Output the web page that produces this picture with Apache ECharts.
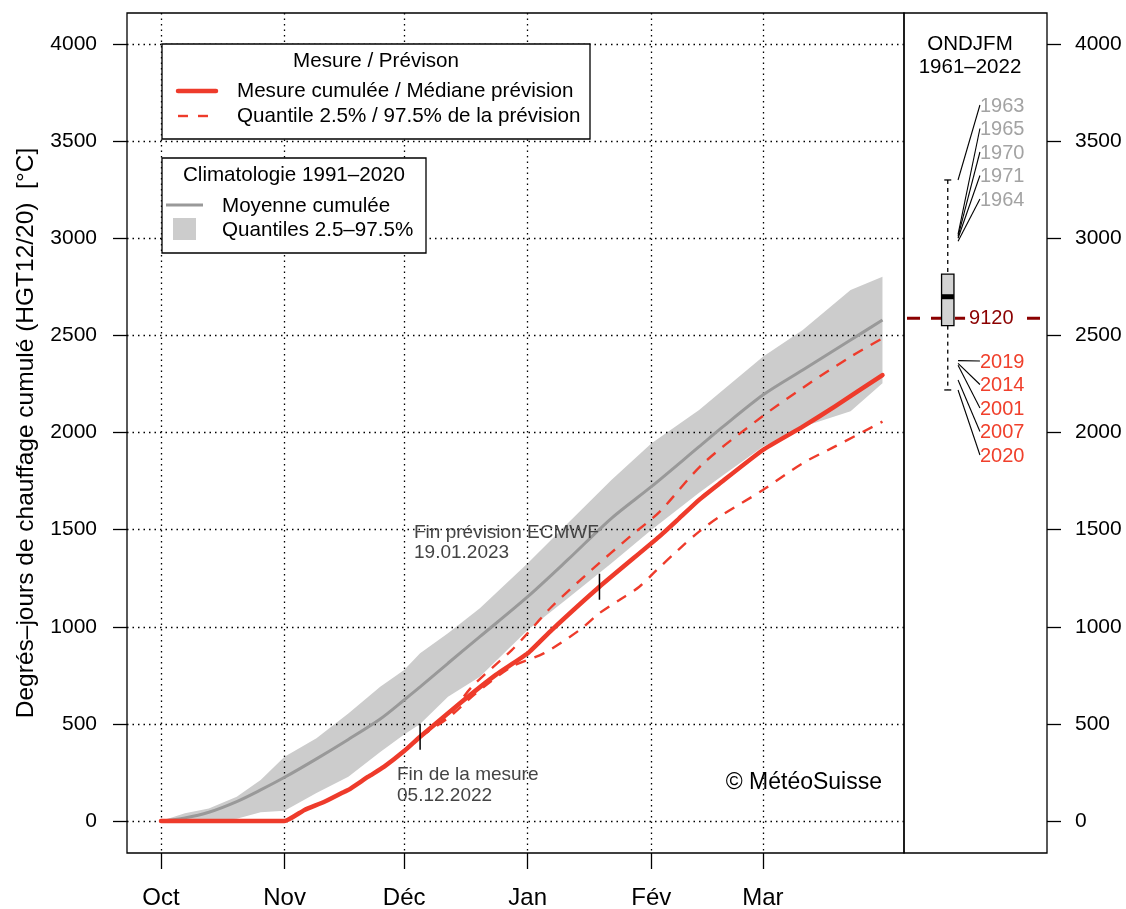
<!DOCTYPE html>
<html><head><meta charset="utf-8">
<script src="https://cdn.jsdelivr.net/npm/echarts@6/dist/echarts.min.js"></script>
<style>html,body{margin:0;padding:0;background:#fff}#c{width:1126px;height:909px}</style>
</head><body><div id="c"></div>
<script>
// ---------- DATA ----------
const monthDays = [0, 31, 61, 92, 123, 151];
const monthNames = ['Oct', 'Nov', 'Déc', 'Jan', 'Fév', 'Mar'];
const yTicks = [0, 500, 1000, 1500, 2000, 2500, 3000, 3500, 4000];

// climatology 1991-2020 (day index from 1 Oct)
const climDays  = [0, 6, 12, 19, 25, 31, 39, 47, 55, 61, 65, 72, 80, 92, 102, 113, 123, 135, 141, 151, 161, 173, 181];
const climMean  = [0, 16, 45, 100, 160, 225, 320, 420, 525, 623, 690, 812, 949, 1155, 1344, 1558, 1721, 1927, 2030, 2193, 2322, 2476, 2579];
const climUpper = [0, 40, 65, 125, 211, 331, 426, 554, 691, 777, 863, 966, 1095, 1327, 1532, 1755, 1944, 2116, 2219, 2390, 2528, 2734, 2802];
const climLower = [0, 0, 3, 12, 45, 53, 144, 228, 355, 445, 500, 640, 743, 983, 1146, 1327, 1498, 1690, 1780, 1927, 2030, 2110, 2253];

// measurement + forecast median
const medDays = [0, 31, 36, 41, 46, 47, 52, 56, 61, 65, 75, 84, 92, 98, 110, 125, 130, 135, 140, 151, 161, 169, 181];
const medVals = [0, 0, 57, 99, 151, 160, 228, 280, 360, 434, 606, 752, 863, 983, 1206, 1464, 1558, 1653, 1735, 1910, 2030, 2133, 2296];
// forecast quantiles
const upDays = [65, 72, 78, 88, 92, 98, 108, 118, 125, 136, 151, 161, 173, 181];
const upVals = [434, 540, 691, 880, 967, 1103, 1292, 1470, 1590, 1840, 2085, 2230, 2390, 2485];
const loDays = [65, 72, 79, 88, 96, 105, 110, 115, 120, 124, 130, 135, 140, 151, 161, 169, 181];
const loVals = [434, 530, 657, 794, 863, 983, 1070, 1138, 1206, 1285, 1400, 1490, 1565, 1704, 1842, 1927, 2056];

const measureEndDay = 65;   // 05.12.2022
const forecastEndDay = 110; // 19.01.2023

// ONDJFM 1961-2022 distribution
const boxStats = [2219, 2550, 2699, 2815, 3300]; // min, q1, median, q3, max
const topYears = ['1963', '1965', '1970', '1971', '1964'];
const topVals  = [3300, 3020, 3010, 3000, 2985];
const lowYears = ['2019', '2014', '2001', '2007', '2020'];
const lowVals  = [2370, 2356, 2346, 2270, 2219];
const refValue = 2588; const refLabel = '9120';

// ---------- STYLE / LAYOUT ----------
const FONT = "'Liberation Sans', Arial, Helvetica, sans-serif";
const RED = '#ee3b2b', GREYLINE = '#999999', BAND = '#cccccc';
const G0 = {left: 127, top: 13, width: 777, height: 840};
const G1 = {left: 904, top: 13, width: 143, height: 840};
const dotted = {type: [1.5, 4], color: '#000', width: 1.3};

const pairs = (xs, ys) => xs.map((x, i) => [x, ys[i]]);
const valAt = (xs, ys, d) => ys[xs.indexOf(d)];
const plain = v => String(Math.round(v));

const chart = echarts.init(document.getElementById('c'), null, {renderer: 'canvas'});

const option = {
  animation: false,
  backgroundColor: '#fff',
  textStyle: {fontFamily: FONT},
  grid: [
    Object.assign({show: true, borderColor: '#000', borderWidth: 1.3, backgroundColor: 'transparent', outerBoundsMode: 'none', containLabel: false}, G0),
    Object.assign({show: true, borderColor: '#000', borderWidth: 1.3, backgroundColor: 'transparent', outerBoundsMode: 'none', containLabel: false}, G1)
  ],
  xAxis: [
    {type: 'value', gridIndex: 0, min: -8.53, max: 186.4, z: 1.5, position: 'bottom',
     axisLine: {show: false, onZero: false},
     axisTick: {show: true, inside: false, customValues: monthDays, length: 16, lineStyle: {color: '#000', width: 1.3}},
     axisLabel: {customValues: monthDays, margin: 33, fontSize: 24, color: '#000', fontFamily: FONT,
       formatter: v => monthNames[monthDays.indexOf(Math.round(v))] || ''},
     splitLine: {show: true, lineStyle: dotted}},
    {type: 'value', gridIndex: 1, min: 0, max: 1, show: false, axisLine: {onZero: false}}
  ],
  yAxis: [
    {type: 'value', gridIndex: 0, min: -164.7, max: 4159.6, z: 1.5, position: 'left',
     axisLine: {show: false, onZero: false},
     axisTick: {show: true, inside: false, customValues: yTicks, length: 14, lineStyle: {color: '#000', width: 1.3}},
     axisLabel: {customValues: yTicks, margin: 30, fontSize: 21, color: '#000', fontFamily: FONT, formatter: plain},
     splitLine: {show: true, lineStyle: dotted},
     name: 'Degrés–jours de chauffage cumulé (HGT12/20)  [°C]', nameLocation: 'middle', nameRotate: 90, nameGap: 88,
     nameTextStyle: {fontSize: 24.5, color: '#000', fontFamily: FONT}},
    {type: 'value', gridIndex: 1, min: -164.7, max: 4159.6, position: 'right',
     axisLine: {show: false, onZero: false},
     axisTick: {show: true, inside: false, customValues: yTicks, length: 14, lineStyle: {color: '#000', width: 1.3}},
     axisLabel: {customValues: yTicks, margin: 28, fontSize: 21, color: '#000', fontFamily: FONT, formatter: plain},
     splitLine: {show: false}}
  ],
  series: [
    // climatology band
    {type: 'custom', xAxisIndex: 0, yAxisIndex: 0, z: 1, data: [[0, 0]], silent: true,
     renderItem: (params, api) => {
       const pts = [];
       for (let i = 0; i < climDays.length; i++) pts.push(api.coord([climDays[i], climUpper[i]]));
       for (let i = climDays.length - 1; i >= 0; i--) pts.push(api.coord([climDays[i], climLower[i]]));
       return {type: 'polygon', shape: {points: pts}, style: {fill: BAND}};
     }},
    {type: 'line', xAxisIndex: 0, yAxisIndex: 0, z: 3, data: pairs(climDays, climMean), showSymbol: false, smooth: 0.3,
     lineStyle: {color: GREYLINE, width: 3}},
    {type: 'line', xAxisIndex: 0, yAxisIndex: 0, z: 4, data: pairs(upDays, upVals), showSymbol: false, smooth: 0.3,
     lineStyle: {color: RED, width: 2.4, type: [11, 9]}},
    {type: 'line', xAxisIndex: 0, yAxisIndex: 0, z: 4, data: pairs(loDays, loVals), showSymbol: false, smooth: 0.3,
     lineStyle: {color: RED, width: 2.4, type: [11, 9]}},
    {type: 'line', xAxisIndex: 0, yAxisIndex: 0, z: 5, data: pairs(medDays, medVals), showSymbol: false, smooth: 0.15,
     lineStyle: {color: RED, width: 4.5, cap: 'round', join: 'round'}},
    // end markers
    {type: 'custom', xAxisIndex: 0, yAxisIndex: 0, z: 6, silent: true,
     data: [[measureEndDay, valAt(medDays, medVals, measureEndDay)], [forecastEndDay, valAt(medDays, medVals, forecastEndDay)]],
     renderItem: (params, api) => {
       const p = api.coord([api.value(0), api.value(1)]);
       return {type: 'line', shape: {x1: p[0], y1: p[1] - 13, x2: p[0], y2: p[1] + 13}, style: {stroke: '#000', lineWidth: 1.5}};
     }},
    // right panel: reference dashed line
    {type: 'custom', xAxisIndex: 1, yAxisIndex: 1, z: 2, silent: true, data: [[0, refValue]],
     renderItem: (params, api) => {
       const a = api.coord([0, refValue]), b = api.coord([1, refValue]);
       const t = api.coord([0.455, refValue]);
       return {type: 'group', children: [
         {type: 'line', shape: {x1: a[0], y1: a[1], x2: b[0], y2: b[1]}, style: {stroke: '#8b0000', lineWidth: 3, lineDash: [13, 11], lineDashOffset: -3}},
         {type: 'rect', shape: {x: t[0] - 4, y: t[1] - 12, width: 54, height: 24}, style: {fill: '#fff'}},
         {type: 'text', x: t[0], y: t[1], style: {text: refLabel, fill: '#8b0000', font: '20px ' + FONT, textAlign: 'left', textVerticalAlign: 'middle'}}
       ]};
     }},
    // boxplot
    {type: 'custom', xAxisIndex: 1, yAxisIndex: 1, z: 3, silent: true, data: [[0.306, boxStats[2]]],
     renderItem: (params, api) => {
       const cx = 0.306;
       const pMin = api.coord([cx, boxStats[0]]), pQ1 = api.coord([cx, boxStats[1]]), pMed = api.coord([cx, boxStats[2]]),
             pQ3 = api.coord([cx, boxStats[3]]), pMax = api.coord([cx, boxStats[4]]);
       const x = pMin[0], hw = 6.2, cw = 3.5;
       return {type: 'group', children: [
         {type: 'line', shape: {x1: x, y1: pMax[1], x2: x, y2: pQ3[1]}, style: {stroke: '#000', lineWidth: 1.3, lineDash: [4, 4]}},
         {type: 'line', shape: {x1: x, y1: pQ1[1], x2: x, y2: pMin[1]}, style: {stroke: '#000', lineWidth: 1.3, lineDash: [4, 4]}},
         {type: 'line', shape: {x1: x - cw, y1: pMax[1], x2: x + cw, y2: pMax[1]}, style: {stroke: '#000', lineWidth: 1.3}},
         {type: 'line', shape: {x1: x - cw, y1: pMin[1], x2: x + cw, y2: pMin[1]}, style: {stroke: '#000', lineWidth: 1.3}},
         {type: 'rect', shape: {x: x - hw, y: pQ3[1], width: 2 * hw, height: pQ1[1] - pQ3[1]}, style: {fill: '#d3d3d3', stroke: '#000', lineWidth: 1.3}},
         {type: 'line', shape: {x1: x - hw, y1: pMed[1], x2: x + hw, y2: pMed[1]}, style: {stroke: '#000', lineWidth: 5}}
       ]};
     }},
    // year annotations
    {type: 'custom', xAxisIndex: 1, yAxisIndex: 1, z: 4, silent: true,
     data: topVals.map((v, i) => [0, v, i, 0]).concat(lowVals.map((v, i) => [0, v, i, 1])),
     renderItem: (params, api) => {
       const v = api.value(1), i = api.value(2), grp = api.value(3);
       const start = api.coord([0.378, v]);
       const lx = api.coord([0.531, v])[0];
       const ly = (grp === 0 ? 106 : 362) + i * 23.5;
       const label = grp === 0 ? topYears[i] : lowYears[i];
       const col = grp === 0 ? '#a3a3a3' : '#f0402c';
       return {type: 'group', children: [
         {type: 'line', shape: {x1: start[0], y1: start[1], x2: lx, y2: ly - 1}, style: {stroke: '#000', lineWidth: 1.1}},
         {type: 'text', x: lx, y: ly, style: {text: label, fill: col, font: '20px ' + FONT, textAlign: 'left', textVerticalAlign: 'middle'}}
       ]};
     }}
  ],
  graphic: [
    {type: 'text', x: 970, y: 44, z: 20, style: {text: 'ONDJFM', font: '20.5px ' + FONT, fill: '#000', textAlign: 'center', textVerticalAlign: 'middle'}},
    {type: 'text', x: 970, y: 67, z: 20, style: {text: '1961–2022', font: '20.5px ' + FONT, fill: '#000', textAlign: 'center', textVerticalAlign: 'middle'}},
    {type: 'rect', z: 20, shape: {x: 162, y: 44, width: 428, height: 95}, style: {fill: '#fff', stroke: '#000', lineWidth: 1.3}},
    {type: 'text', z: 21, x: 376, y: 61, style: {text: 'Mesure / Prévison', font: '20.6px ' + FONT, fill: '#000', textAlign: 'center', textVerticalAlign: 'middle'}},
    {type: 'line', z: 21, shape: {x1: 178, y1: 91, x2: 216, y2: 91}, style: {stroke: RED, lineWidth: 4.5, lineCap: 'round'}},
    {type: 'text', z: 21, x: 237, y: 91, style: {text: 'Mesure cumulée / Médiane prévision', font: '20.6px ' + FONT, fill: '#000', textAlign: 'left', textVerticalAlign: 'middle'}},
    {type: 'line', z: 21, shape: {x1: 178, y1: 116, x2: 208, y2: 116}, style: {stroke: RED, lineWidth: 2.4, lineDash: [10, 10]}},
    {type: 'text', z: 21, x: 237, y: 116, style: {text: 'Quantile 2.5% / 97.5% de la prévision', font: '20.6px ' + FONT, fill: '#000', textAlign: 'left', textVerticalAlign: 'middle'}},
    {type: 'rect', z: 20, shape: {x: 162, y: 158, width: 264, height: 95}, style: {fill: '#fff', stroke: '#000', lineWidth: 1.3}},
    {type: 'text', z: 21, x: 294, y: 175, style: {text: 'Climatologie 1991–2020', font: '20.6px ' + FONT, fill: '#000', textAlign: 'center', textVerticalAlign: 'middle'}},
    {type: 'line', z: 21, shape: {x1: 166, y1: 205, x2: 203, y2: 205}, style: {stroke: GREYLINE, lineWidth: 3}},
    {type: 'text', z: 21, x: 222, y: 206, style: {text: 'Moyenne cumulée', font: '20.6px ' + FONT, fill: '#000', textAlign: 'left', textVerticalAlign: 'middle'}},
    {type: 'rect', z: 21, shape: {x: 173, y: 218, width: 23, height: 22}, style: {fill: BAND}},
    {type: 'text', z: 21, x: 222, y: 230, style: {text: 'Quantiles 2.5–97.5%', font: '20.6px ' + FONT, fill: '#000', textAlign: 'left', textVerticalAlign: 'middle'}},
    {type: 'text', z: 21, x: 414, y: 533, style: {text: 'Fin prévision ECMWF', font: '19px ' + FONT, fill: '#444', textAlign: 'left', textVerticalAlign: 'middle'}},
    {type: 'text', z: 21, x: 414, y: 553, style: {text: '19.01.2023', font: '19px ' + FONT, fill: '#444', textAlign: 'left', textVerticalAlign: 'middle'}},
    {type: 'text', z: 21, x: 397, y: 775, style: {text: 'Fin de la mesure', font: '19px ' + FONT, fill: '#444', textAlign: 'left', textVerticalAlign: 'middle'}},
    {type: 'text', z: 21, x: 397, y: 796, style: {text: '05.12.2022', font: '19px ' + FONT, fill: '#444', textAlign: 'left', textVerticalAlign: 'middle'}},
    {type: 'text', z: 21, x: 882, y: 783, style: {text: '© MétéoSuisse', font: '23px ' + FONT, fill: '#000', textAlign: 'right', textVerticalAlign: 'middle'}}
  ]
};
chart.setOption(option);
</script></body></html>
